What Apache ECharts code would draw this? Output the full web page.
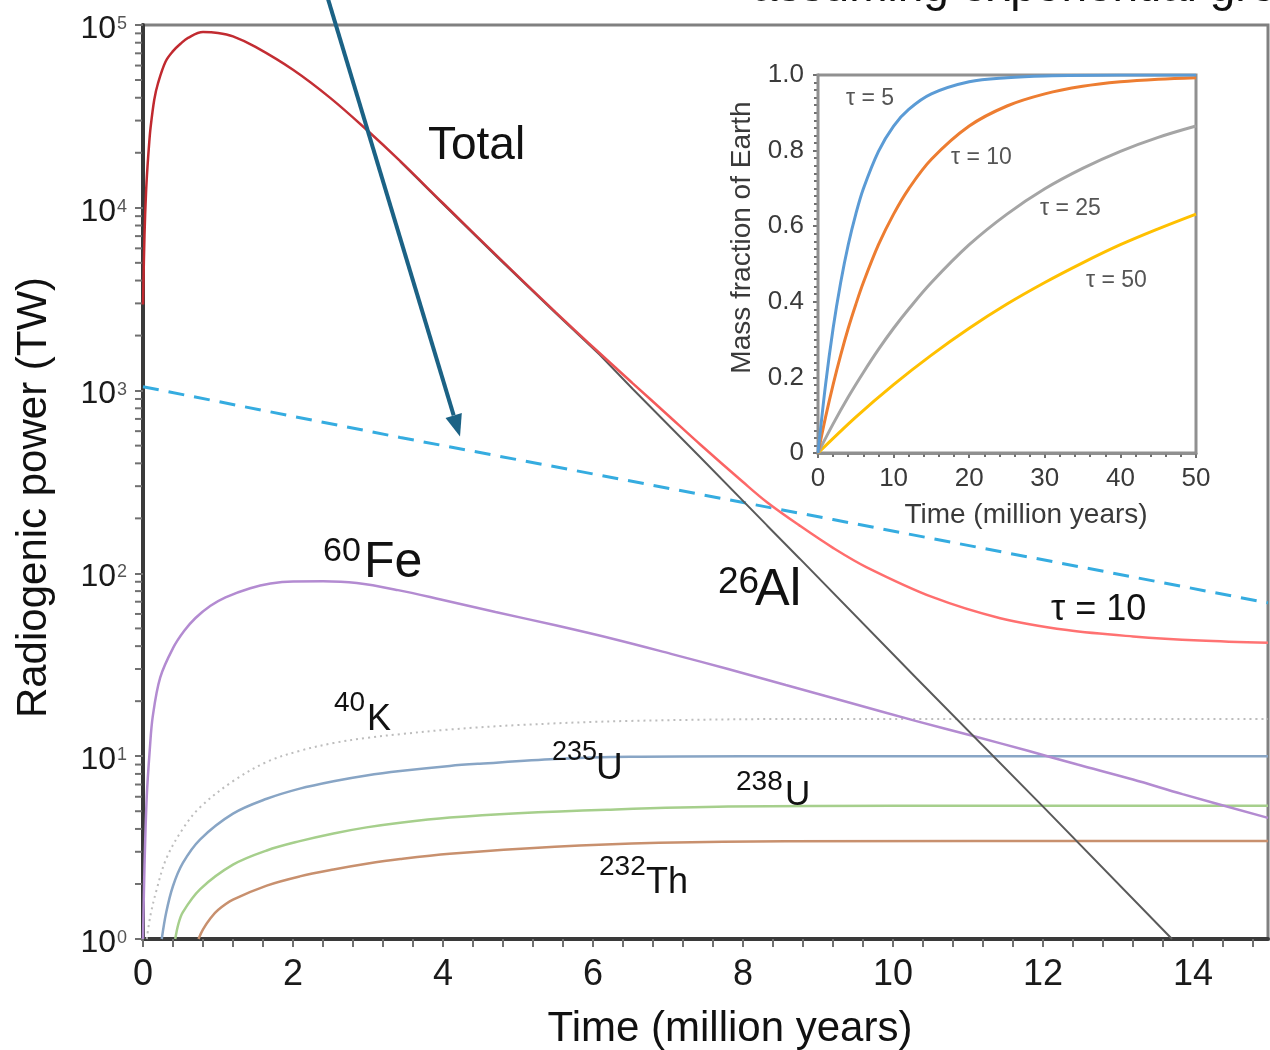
<!DOCTYPE html>
<html>
<head>
<meta charset="utf-8">
<title>Radiogenic power</title>
<script src="https://cdn.jsdelivr.net/npm/echarts@6/dist/echarts.min.js"></script>
<style>
html, body { margin: 0; padding: 0; background: #fff; }
#main { width: 1270px; height: 1050px; }
</style>
</head>
<body>
<div id="main"></div>
<script>
// 主图数据：时间（百万年） / 放射性功率（TW）
const totalT = [0, 0.02, 0.04, 0.06, 0.08, 0.1, 0.15, 0.2, 0.3, 0.4, 0.5, 0.6, 0.8, 1.0, 1.2, 1.5, 2.0, 2.5, 3.0, 3.43, 4.0, 4.76, 5.5, 6.09, 6.53, 7.0, 7.43, 8.0, 8.32, 8.76, 9.2, 9.65, 10.53, 11.43, 12.32, 13.2, 14.09, 15]
const totalP = [2960, 7080, 12000, 16800, 21900, 27200, 39000, 48000, 63000, 72000, 79000, 85000, 91500, 90500, 86700, 75900, 56900, 39800, 26300, 17990, 10590, 5250, 2690, 1600, 1096, 733, 507, 316, 245, 182, 138, 108, 74.1, 56.9, 49.0, 45.2, 42.9, 41.7]

// 26Al（前段被 Total 盖住）
const alT = [3.43, 4.0, 4.76, 5.5, 6.09, 6.53, 7.43, 8.32, 8.76, 10.31, 12.04, 13.72]
const alP = [17900, 10500, 5200, 2660, 1570, 1020, 432, 183, 120, 26.8, 5.1, 1.0]

const dashT = [0, 3.43, 6, 9.2, 15]
const dashP = [1050, 554, 350, 197, 69]

const feT = [0, 0.02, 0.05, 0.09, 0.13, 0.23, 0.4, 0.55, 0.7, 0.9, 1.1, 1.43, 1.7, 2.0, 2.4, 2.85, 3.4, 3.97, 4.7, 5.5, 6.3, 7.04, 7.8, 8.57, 9.39, 10.3, 11.07, 11.8, 12.46, 13.2, 13.86, 15]
const feP = [1.0, 2.5, 6, 10.8, 16.5, 27, 39, 48.5, 57, 66.5, 74, 83, 88, 90.3, 90.5, 88.5, 81, 72, 61.5, 52, 43.5, 36.3, 30, 24.5, 19.8, 15.6, 12.9, 10.7, 9.0, 7.45, 6.2, 4.6]

const kT = [0.05, 0.1, 0.18, 0.31, 0.53, 0.76, 1.2, 1.65, 2.09, 2.54, 2.98, 3.43, 4.09, 5.0, 6.5, 9.08, 15]
const kP = [1.0, 1.35, 1.85, 2.75, 4.0, 5.25, 7.3, 9.3, 10.7, 11.8, 12.6, 13.2, 14.0, 14.8, 15.6, 16.0, 16.0]

const u235T = [0.25, 0.31, 0.4, 0.53, 0.76, 1.2, 1.65, 2.09, 2.54, 2.98, 3.43, 4.09, 4.49, 5.5, 6.5, 8, 15]
const u235P = [1.0, 1.4, 1.95, 2.6, 3.5, 4.85, 5.85, 6.65, 7.3, 7.85, 8.3, 8.85, 9.1, 9.65, 9.92, 10.0, 10.0]

const u238T = [0.43, 0.47, 0.53, 0.76, 1.2, 1.65, 2.09, 2.54, 2.98, 3.43, 4.09, 5.0, 6.19, 7.8, 10, 15]
const u238P = [1.0, 1.2, 1.4, 1.87, 2.55, 3.05, 3.43, 3.78, 4.08, 4.33, 4.62, 4.88, 5.1, 5.3, 5.35, 5.35]

const thT = [0.74, 0.8, 0.9, 1.0, 1.2, 1.65, 2.09, 2.54, 2.98, 3.43, 4.09, 5.49, 6.88, 8.56, 15]
const thP = [1.0, 1.13, 1.3, 1.44, 1.64, 1.96, 2.2, 2.4, 2.58, 2.74, 2.93, 3.2, 3.36, 3.43, 3.44]

// 箭头（起点在图框上方）
const arrowT = [2.467, 4.227]
const arrowP = [138700, 561]

// 小图数据：时间 / 地球质量分数
const tau5T = [0, 1, 2, 3, 4, 5, 6, 8, 10, 12, 15, 20, 25, 30, 40, 50]
const tau5M = [0, 0.181, 0.33, 0.451, 0.551, 0.632, 0.699, 0.798, 0.865, 0.909, 0.95, 0.982, 0.993, 0.9975, 0.9997, 1.0]
const tau10T = [0, 1, 2, 3, 4, 5, 6, 8, 10, 12, 15, 20, 25, 30, 35, 40, 45, 50]
const tau10M = [0, 0.095, 0.181, 0.259, 0.33, 0.393, 0.451, 0.551, 0.632, 0.699, 0.777, 0.865, 0.918, 0.95, 0.97, 0.982, 0.989, 0.993]
const tau25T = [0, 2, 4, 6, 8, 10, 12, 15, 20, 25, 30, 35, 40, 45, 50]
const tau25M = [0, 0.077, 0.148, 0.213, 0.274, 0.33, 0.381, 0.451, 0.551, 0.632, 0.699, 0.753, 0.798, 0.835, 0.865]
const tau50T = [0, 5, 10, 15, 20, 25, 30, 35, 40, 45, 50]
const tau50M = [0, 0.095, 0.181, 0.259, 0.33, 0.394, 0.451, 0.503, 0.551, 0.593, 0.632]

// 刻度标签
const xTickValues = [0, 2, 4, 6, 8, 10, 12, 14]
const xTickLabels = ['0', '2', '4', '6', '8', '10', '12', '14']
const yTickValues = [1, 10, 100, 1000, 10000, 100000]
const yTickSups = ['0', '1', '2', '3', '4', '5']
const yMinorTicks = [2, 3, 4, 5, 6, 7, 8, 9, 20, 30, 40, 50, 60, 70, 80, 90, 200, 300, 400, 500, 600, 700, 800, 900,
  2000, 3000, 4000, 5000, 6000, 7000, 8000, 9000, 20000, 30000, 40000, 50000, 60000, 70000, 80000, 90000]
const insetYLabels = ['0', '0.2', '0.4', '0.6', '0.8', '1.0']

const FONT = '"Liberation Sans", Arial, sans-serif'

function zip (t, v) {
  return t.map((x, i) => [x, v[i]])
}

function mainLine (name, t, v, color, width, extra) {
  return Object.assign({
    name: name,
    type: 'line',
    xAxisIndex: 0,
    yAxisIndex: 0,
    data: zip(t, v),
    showSymbol: false,
    symbol: 'none',
    smooth: 0.35,
    silent: true,
    lineStyle: { color: color, width: width }
  }, extra || {})
}

function insetLine (t, v, color) {
  return {
    type: 'line',
    xAxisIndex: 1,
    yAxisIndex: 1,
    data: zip(t, v),
    showSymbol: false,
    symbol: 'none',
    smooth: 0.35,
    silent: true,
    lineStyle: { color: color, width: 3 }
  }
}

// 图上的文字标注（上标与正文分开放）
const notes = [
  { text: 'Total', x: 428, y: 146, size: 46 },
  { text: '60', x: 323, y: 552, size: 34 },
  { text: 'Fe', x: 364, y: 563, size: 50 },
  { text: '26', x: 718, y: 583, size: 37 },
  { text: 'Al', x: 755, y: 591, size: 52 },
  { text: '40', x: 334, y: 703, size: 28 },
  { text: 'K', x: 367, y: 720, size: 36 },
  { text: '235', x: 552, y: 753, size: 27 },
  { text: 'U', x: 596, y: 769, size: 37 },
  { text: '238', x: 736, y: 782, size: 28 },
  { text: 'U', x: 785, y: 795, size: 35 },
  { text: '232', x: 599, y: 867, size: 28 },
  { text: 'Th', x: 646, y: 883, size: 36 },
  { text: 'τ = 10', x: 1051, y: 610, size: 36 },
  { text: 'assuming exponential growth', x: 752, y: -12, size: 46 }
]
const insetNotes = [
  { text: 'τ = 5', x: 846, y: 99 },
  { text: 'τ = 10', x: 951, y: 158 },
  { text: 'τ = 25', x: 1040, y: 209 },
  { text: 'τ = 50', x: 1086, y: 281 }
]

const chart = echarts.init(document.getElementById('main'), null, { renderer: 'canvas' })

const redGrad = new echarts.graphic.LinearGradient(0, 0, 1, 0, [
  { offset: 0, color: '#c0282e' },
  { offset: 0.33, color: '#c8363c' },
  { offset: 0.43, color: '#f25656' },
  { offset: 0.56, color: '#ff6c6c' },
  { offset: 1, color: '#ff7474' }
])

const option = {
  animation: false,
  backgroundColor: '#fff',
  textStyle: { fontFamily: FONT },
  grid: [
    {
      // 主图
      left: 143, top: 25, width: 1125, height: 914,
      show: true, borderColor: '#808080', borderWidth: 3,
      backgroundColor: 'transparent',
      outerBoundsMode: 'none'
    },
    {
      // 小图
      left: 818, top: 75, width: 378, height: 378,
      show: true, borderColor: '#909090', borderWidth: 3,
      backgroundColor: '#fff',
      outerBoundsMode: 'none',
      z: 3
    }
  ],
  xAxis: [
    {
      type: 'value', gridIndex: 0, min: 0, max: 15, interval: 0.4,
      name: 'Time (million years)', nameLocation: 'middle', nameGap: 69,
      nameTextStyle: { fontSize: 42, color: '#111', fontFamily: FONT, padding: [0, 0, 0, 49] },
      axisLine: { show: true, onZero: false, lineStyle: { color: '#3a3a3a', width: 4 } },
      axisTick: { show: true, length: 8, lineStyle: { color: '#707070', width: 2 } },
      axisLabel: {
        fontSize: 36, color: '#1a1a1a', margin: 18, fontFamily: FONT, showMaxLabel: false,
        formatter: (v) => {
          const i = xTickValues.findIndex((x) => Math.abs(x - v) < 1e-6)
          return i >= 0 ? xTickLabels[i] : ''
        }
      },
      splitLine: { show: false }
    },
    {
      type: 'value', gridIndex: 1, min: 0, max: 50, interval: 10,
      name: 'Time (million years)', nameLocation: 'middle', nameGap: 48,
      nameTextStyle: { fontSize: 28, color: '#3a3a3a', fontFamily: FONT, padding: [0, 0, 0, 38] },
      axisLine: { show: true, onZero: false, lineStyle: { color: '#909090', width: 3 } },
      axisTick: { show: true, length: 5, lineStyle: { color: '#707070', width: 2 } },
      minorTick: { show: true, splitNumber: 5, length: 4, lineStyle: { color: '#707070', width: 2 } },
      axisLabel: { fontSize: 26, color: '#3a3a3a', margin: 13, fontFamily: FONT },
      splitLine: { show: false }
    }
  ],
  yAxis: [
    {
      type: 'log', logBase: 10, gridIndex: 0, min: 1, max: 100000,
      name: 'Radiogenic power (TW)', nameLocation: 'middle', nameGap: 88, nameRotate: 90,
      nameTextStyle: { fontSize: 42, color: '#111', fontFamily: FONT, padding: [0, 31, 0, 0] },
      axisLine: { show: true, onZero: false, lineStyle: { color: '#3a3a3a', width: 4 } },
      axisTick: { show: true, length: 8, lineStyle: { color: '#707070', width: 2 } },
      axisLabel: {
        margin: 16, color: '#1a1a1a', fontFamily: FONT,
        formatter: (v) => {
          const i = yTickValues.findIndex((x) => Math.abs(x - v) / x < 1e-6)
          return i >= 0 ? '{b|10}{s|' + yTickSups[i] + '}' : ''
        },
        rich: {
          b: { fontSize: 32, lineHeight: 32, padding: [8, 0, 0, 0], color: '#1a1a1a', fontFamily: FONT },
          s: { fontSize: 18, lineHeight: 18, padding: [6, 0, 0, 1], verticalAlign: 'top', color: '#555', fontFamily: FONT }
        }
      },
      splitLine: { show: false }
    },
    {
      type: 'value', gridIndex: 1, min: 0, max: 1, interval: 0.2,
      name: 'Mass fraction of Earth', nameLocation: 'middle', nameGap: 62, nameRotate: 90,
      nameTextStyle: { fontSize: 28, color: '#3a3a3a', fontFamily: FONT, padding: [0, 0, 0, 53] },
      axisLine: { show: true, onZero: false, lineStyle: { color: '#909090', width: 3 } },
      axisTick: { show: true, length: 5, lineStyle: { color: '#707070', width: 2 } },
      minorTick: { show: true, splitNumber: 10, length: 4, lineStyle: { color: '#707070', width: 2 } },
      axisLabel: {
        fontSize: 26, color: '#3a3a3a', margin: 14, fontFamily: FONT,
        formatter: (v) => insetYLabels[Math.round(v / 0.2)]
      },
      splitLine: { show: false }
    }
  ],
  graphic: notes.map((n) => ({
    type: 'text', x: n.x, y: n.y, silent: true, z: 10,
    style: { text: n.text, fontSize: n.size, fontFamily: FONT, fill: '#111', align: 'left', verticalAlign: 'middle' }
  })).concat(insetNotes.map((n) => ({
    type: 'text', x: n.x, y: n.y, silent: true, z: 10,
    style: { text: n.text, fontSize: 23, fontFamily: FONT, fill: '#555', align: 'left', verticalAlign: 'middle' }
  }))),
  series: [
    // 对数轴的次刻度
    {
      type: 'custom', xAxisIndex: 0, yAxisIndex: 0, silent: true, clip: false,
      data: yMinorTicks.map((v) => [0, v]),
      renderItem: (params, api) => {
        const p = api.coord([api.value(0), api.value(1)])
        return {
          type: 'line',
          shape: { x1: p[0] - 8, y1: p[1], x2: p[0] - 1, y2: p[1] },
          style: { stroke: '#707070', lineWidth: 2 }
        }
      }
    },
    mainLine('232Th', thT, thP, '#c8906e', 2.5),
    mainLine('238U', u238T, u238P, '#a6cf8c', 2.5),
    mainLine('235U', u235T, u235P, '#88a5c5', 2.5),
    mainLine('40K', kT, kP, '#bdbdbd', 2, { lineStyle: { color: '#bdbdbd', width: 2, type: [2, 4] } }),
    mainLine('60Fe', feT, feP, '#b38bd1', 2.5),
    mainLine('dashed', dashT, dashP, '#35ace0', 3, { smooth: false, lineStyle: { color: '#35ace0', width: 3, type: [16, 10] } }),
    mainLine('26Al', alT, alP, '#5a5a5a', 2, { smooth: false }),
    mainLine('Total', totalT, totalP, redGrad, 2.5),
    // 箭头
    {
      type: 'custom', xAxisIndex: 0, yAxisIndex: 0, silent: true, clip: false, z: 5,
      data: [[arrowT[0], arrowP[0], arrowT[1], arrowP[1]]],
      encode: { x: [0, 2], y: [1, 3] },
      renderItem: (params, api) => {
        const a = api.coord([api.value(0), api.value(1)])
        const b = api.coord([api.value(2), api.value(3)])
        const ang = Math.atan2(b[1] - a[1], b[0] - a[0])
        const len = 22
        const half = 8.5
        const bx = b[0] - len * Math.cos(ang)
        const by = b[1] - len * Math.sin(ang)
        return {
          type: 'group',
          children: [
            { type: 'line', shape: { x1: a[0], y1: a[1], x2: bx, y2: by }, style: { stroke: '#1b6285', lineWidth: 4 } },
            {
              type: 'polygon',
              shape: { points: [[b[0], b[1]], [bx + half * Math.sin(ang), by - half * Math.cos(ang)], [bx - half * Math.sin(ang), by + half * Math.cos(ang)]] },
              style: { fill: '#1b6285' }
            }
          ]
        }
      }
    },
    insetLine(tau50T, tau50M, '#ffc000'),
    insetLine(tau25T, tau25M, '#a5a5a5'),
    insetLine(tau10T, tau10M, '#ed7d31'),
    insetLine(tau5T, tau5M, '#5b9bd5')
  ]
}

chart.setOption(option)
window.addEventListener('resize', () => {
  chart.resize()
})
</script>
</body>
</html>
